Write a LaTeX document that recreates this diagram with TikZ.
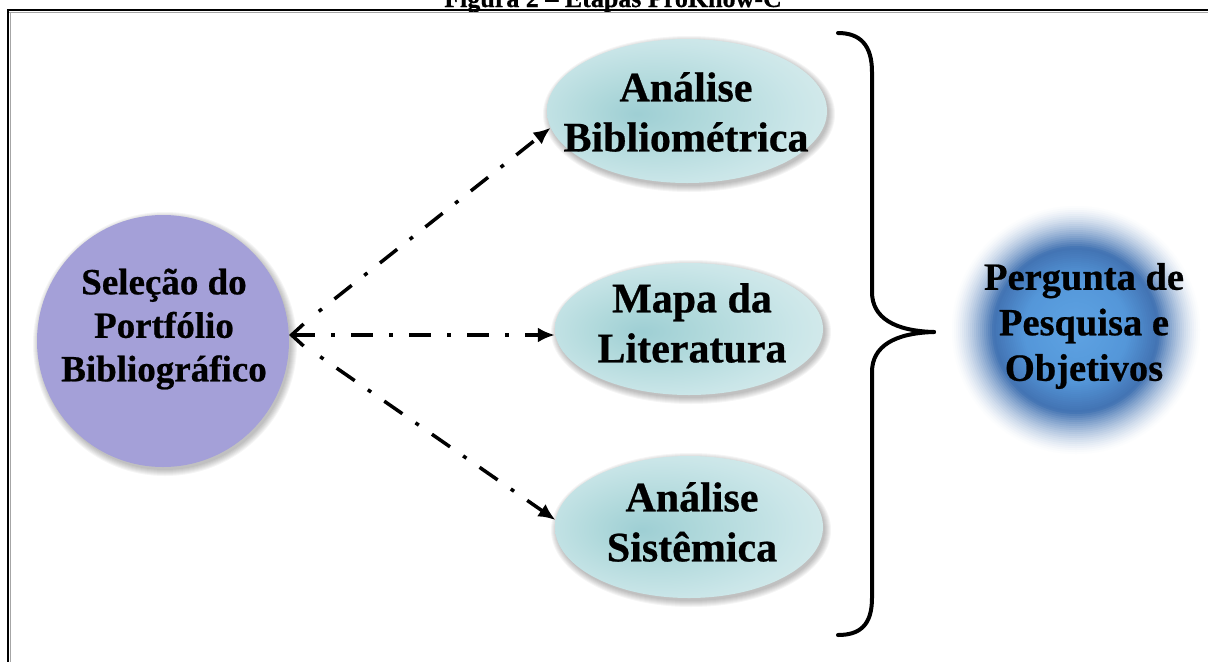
\documentclass[tikz,border=0pt]{standalone}
\usepackage{fontspec}
\setmainfont{Liberation Serif}[BoldFeatures={FakeBold=0.6}]
\usetikzlibrary{arrows.meta,shapes.geometric}

\definecolor{selfill}{RGB}{164,160,216}
% blues of the goal disc, from the middle outwards
\definecolor{gcore}{rgb}{0.37,0.64,0.89}
\definecolor{gmid}{rgb}{0.33,0.59,0.85}
\definecolor{gring}{rgb}{0.26,0.45,0.70}

% light teal fill of the three stage ellipses
\pgfdeclareradialshading{tealfill}{\pgfpoint{-9bp}{-1bp}}{%
  rgb(0bp)=(0.62,0.81,0.83);
  rgb(10bp)=(0.69,0.85,0.86);
  rgb(24bp)=(0.79,0.90,0.91);
  rgb(35bp)=(0.86,0.93,0.93);
  rgb(50bp)=(0.87,0.94,0.94)}

% soft grey halo under a shape: centre, x radius, y radius
\newcommand\softhalo[3]{%
  \foreach \k in {0,...,6}
    \fill[black,opacity=0.04] ([shift={(2,3)}]#1) ellipse [x radius=#2+\k, y radius=#3+\k];}

% blurred blue disc: concentric rings, centre and outer radius
\newcommand\glowdisc[2]{%
  \foreach \i in {0,...,62}{%
    \pgfmathsetmacro\rr{#2-2*\i}%
    \pgfmathsetmacro\tt{\rr/#2}%
    \pgfmathsetmacro\pa{max(0,min(100,100*((1-\tt)/0.34)^1.4))}%
    \pgfmathsetmacro\pb{max(0,min(100,(0.66-\tt)/0.24*100))}%
    \pgfmathsetmacro\pc{max(0,min(100,(0.42-\tt)/0.42*100))}%
    \colorlet{glowtone}{gring!\pa!white}%
    \ifdim\tt pt<0.66pt \colorlet{glowtone}{gmid!\pb!gring}\fi
    \ifdim\tt pt<0.42pt \colorlet{glowtone}{gcore!\pc!gmid}\fi
    \fill[glowtone] (#1) circle (\rr);
  }}

\begin{document}
\begin{tikzpicture}[x=1pt,y=-1pt,
  lbl/.style={font=\fontsize{37}{43.5}\selectfont\bfseries, align=center, inner sep=0pt, text=black},
  stagelbl/.style={lbl, font=\fontsize{42}{50}\selectfont\bfseries},
  branch/.style={ellipse, shading=tealfill, inner sep=0pt},
  flow/.style={line width=3.5pt, dash pattern=on 22pt off 16pt on 4pt off 16pt},
  flowhead/.style={-{Latex[length=17pt,width=15pt]}},
  bracestroke/.style={line width=4pt, line cap=round}]

\useasboundingbox (0,0) rectangle (1208,662);

% caption and frame
\node[font=\fontsize{26}{30}\selectfont\bfseries, anchor=base] (title) at (613,7) {Figura 2 – Etapas ProKnow-C};
\draw[black!35, line width=1.5pt] (9,12.5) -- (1208,12.5);
\draw[black!35, line width=1.5pt] (10.5,12) -- (10.5,662);
\draw[line width=2pt] (7,10) -- (1208,10);
\draw[line width=2pt] (8,9) -- (8,662);

% starting stage
\coordinate (selc) at (163,341);
\softhalo{selc}{126}{126}
\node[circle, fill=selfill, minimum size=252pt, inner sep=0pt] (sel) at (selc) {};
\node[lbl] (seltxt) at (164,329) {Seleção do\\Portfólio\\Bibliográfico};

% three analysis stages
\coordinate (bibc) at (687,111);
\coordinate (litc) at (689,329);
\coordinate (sysc) at (689,527);
\softhalo{bibc}{140}{72}
\softhalo{litc}{134}{66}
\softhalo{sysc}{134}{71}
\node[branch, minimum width=280pt, minimum height=144pt] (bib) at (bibc) {};
\node[branch, minimum width=268pt, minimum height=132pt] (lit) at (litc) {};
\node[branch, minimum width=268pt, minimum height=142pt] (sys) at (sysc) {};
\node[stagelbl] (bibtxt) at (686,112) {Análise\\Bibliométrica};
\node[stagelbl] (littxt) at (692,323) {Mapa da\\Literatura};
\node[stagelbl] (systxt) at (692,522) {Análise\\Sistêmica};

% goal
\coordinate (goalc) at (1076,330);
\glowdisc{goalc}{126}
\node[circle, minimum size=236pt, inner sep=0pt] (goal) at (goalc) {};
\node[lbl, font=\fontsize{38.5}{45.5}\selectfont\bfseries] (goaltxt) at (1084,326) {Pergunta de\\Pesquisa e\\Objetivos};

% dash-dot connectors from the starting stage
\coordinate (hub) at (289,335);
\draw[flow, {Straight Barb[length=12pt,width=22pt]}-{Latex[length=17pt,width=15pt]}] (hub) -- (hub -| lit.west);
\draw[flow, flowhead, dash phase=22pt, shorten <=22pt] (hub) -- (bib.187);
\draw[flow, flowhead, dash phase=22pt, shorten <=22pt] (hub) -- (sys.177);

% curly brace gathering the three stages
\coordinate (brtop) at (838,33);
\coordinate (brtip) at (934,332);
\coordinate (brbot) at (838,635);
\draw[bracestroke] (brtop) .. controls (860,33) and (872,45) .. (872,72)
  -- (872,292) .. controls (872,318) and (895,331) .. (brtip);
\draw[bracestroke] (brtip) .. controls (895,333) and (872,346) .. (872,372)
  -- (872,598) .. controls (872,625) and (860,635) .. (brbot);
\end{tikzpicture}
\end{document}
